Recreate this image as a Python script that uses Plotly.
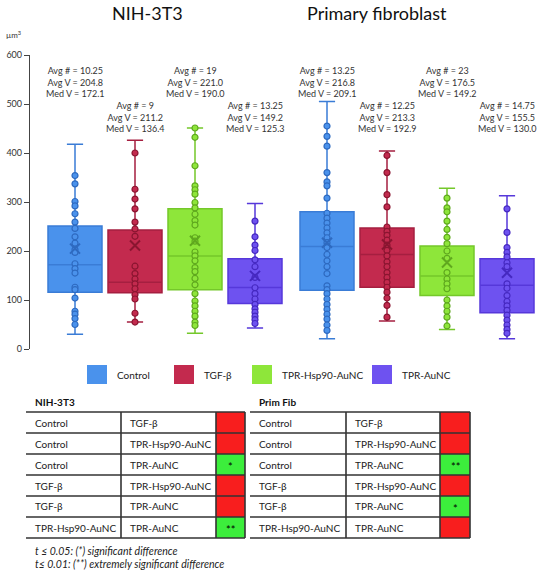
import plotly.graph_objects as go

# ---------------- data ----------------
groups = ["NIH-3T3", "Primary fibroblast"]
treatments = ["Control", "TGF-β", "TPR-Hsp90-AuNC", "TPR-AuNC"]

# box statistics, [group][treatment]
q1 = [[116, 115, 121, 93], [120, 126, 109, 74]]
median = [[172.1, 136.4, 190.0, 125.3], [209.1, 192.9, 149.2, 130.0]]
q3 = [[251, 243, 286, 184], [280, 247, 210, 184]]
lowerfence = [[30, 55, 32, 43], [21, 57, 40, 21]]
upperfence = [[418, 426, 451, 297], [505, 404, 328, 313]]
avg_count = [[10.25, 9, 19, 13.25], [13.25, 12.25, 23, 14.75]]
avg_vol = [[204.8, 211.2, 221.0, 149.2], [216.8, 213.3, 176.5, 155.5]]

# individual cell volumes (µm³), [group][treatment]
points = [
    [
        [354, 337, 301, 292, 276, 259, 246, 229, 216, 203, 197, 174, 164, 155, 126, 121, 104, 77, 71, 62, 50],
        [400, 326, 306, 286, 259, 245, 230, 169, 154, 143, 133, 123, 111, 102, 73, 55],
        [451, 432, 374, 333, 325, 316, 299, 288, 275, 262, 253, 227, 220, 198, 190, 180, 166, 158, 144, 131,
         113, 98, 88, 77, 67, 55, 48],
        [261, 229, 212, 201, 182, 168, 146, 125, 113, 102, 91, 82, 75, 67, 60, 52],
    ],
    [
        [455, 434, 414, 360, 341, 333, 308, 277, 267, 257, 247, 237, 227, 217, 207, 193, 180, 168, 154, 129,
         121, 113, 102, 91, 81, 71, 61, 49, 38],
        [395, 360, 315, 290, 249, 240, 232, 222, 212, 201, 190, 178, 168, 156, 146, 136, 126, 116, 104, 89, 65],
        [308, 288, 280, 261, 244, 228, 215, 200, 185, 156, 143, 133, 123, 100, 88, 77, 65, 47],
        [286, 238, 207, 197, 188, 176, 168, 133, 124, 109, 97, 88, 79, 69, 59, 49, 40, 32],
    ],
]

y_ticks = [0, 100, 200, 300, 400, 500, 600]
y_unit = "µm³"

# significance tables
table_titles = ["NIH-3T3", "Prim Fib"]
pair_a = ["Control", "Control", "Control", "TGF-β", "TGF-β", "TPR-Hsp90-AuNC"]
pair_b = ["TGF-β", "TPR-Hsp90-AuNC", "TPR-AuNC", "TPR-Hsp90-AuNC", "TPR-AuNC", "TPR-AuNC"]
significance = [
    ["", "", "*", "", "", "**"],
    ["", "", "**", "", "*", ""],
]
footnotes = ["t ≤ 0.05: (*) significant difference",
             "t≤ 0.01: (**) extremely significant difference"]

# ---------------- styles ----------------
FONT = "Lato"
fills = ["#4A92EC", "#C32A4E", "#8EE63A", "#6E52F0"]
lines = ["#3A7CD6", "#A51F40", "#74C82A", "#5638DA"]
darks = ["#2E6AC0", "#8A1530", "#5FA81E", "#4528C0"]

W, H = 543, 571
L, R, T, B = 30, 0, 55, 222
PW, PH = W - L - R, H - T - B


def px(x):
    return (x - L) / PW


def py(y):
    return (H - B - y) / PH


GROUP_STRIDE = 4.2


def pos(g, i):
    return g * GROUP_STRIDE + i


fig = go.Figure()

for i, t in enumerate(treatments):
    xs = [pos(g, i) for g in range(len(groups))]
    fig.add_trace(go.Box(
        x=xs,
        q1=[q1[g][i] for g in range(len(groups))],
        median=[median[g][i] for g in range(len(groups))],
        q3=[q3[g][i] for g in range(len(groups))],
        lowerfence=[lowerfence[g][i] for g in range(len(groups))],
        upperfence=[upperfence[g][i] for g in range(len(groups))],
        orientation="v",
        width=0.9,
        whiskerwidth=0.3,
        fillcolor=fills[i],
        line=dict(color=lines[i], width=1.5),
        boxpoints=False,
        name=t,
        showlegend=False,
    ))
    px_list, py_list = [], []
    for g in range(len(groups)):
        px_list += [pos(g, i)] * len(points[g][i])
        py_list += points[g][i]
    fig.add_trace(go.Scatter(
        x=px_list, y=py_list, mode="markers",
        marker=dict(size=6, color=fills[i], line=dict(color=darks[i], width=1.2)),
        showlegend=False, hoverinfo="y",
    ))
    fig.add_trace(go.Scatter(
        x=xs, y=[avg_vol[g][i] for g in range(len(groups))], mode="markers",
        marker=dict(symbol="x-thin-open", size=10, color=darks[i],
                    line=dict(color=darks[i], width=2)),
        showlegend=False, hoverinfo="y",
    ))

annotations = []
# stats text above each box
for g in range(len(groups)):
    for i in range(len(treatments)):
        c = avg_count[g][i]
        txt = f"Avg # = {c:g}<br>Avg V = {avg_vol[g][i]:.1f}<br>Med V = {median[g][i]:.1f}"
        yc = 544 if i % 2 == 0 else 474
        annotations.append(dict(
            x=pos(g, i), y=yc, xref="x", yref="y", text=txt, showarrow=False,
            xanchor="center", yanchor="middle", align="center",
            font=dict(family=FONT, size=9, color="#333333"),
        ))

# group titles
for g, (name, xc) in enumerate(zip(groups, [147, 377])):
    annotations.append(dict(
        x=px(xc), y=py(13), xref="paper", yref="paper", text=name, showarrow=False,
        xanchor="center", yanchor="middle", font=dict(family=FONT, size=18, color="#111111"),
    ))

annotations.append(dict(
    x=px(4), y=py(34), xref="paper", yref="paper", text="µm<sup>3</sup>", showarrow=False,
    xanchor="left", yanchor="middle", font=dict(family=FONT, size=8, color="#333333"),
))

shapes = []
# legend
leg_x = [87, 174, 252, 372]
for i, t in enumerate(treatments):
    shapes.append(dict(type="rect", xref="paper", yref="paper",
                       x0=px(leg_x[i]), x1=px(leg_x[i] + 20), y0=py(384), y1=py(365),
                       fillcolor=fills[i], line=dict(width=0)))
    annotations.append(dict(
        x=px(leg_x[i] + 28), y=py(375), xref="paper", yref="paper", text=t, showarrow=False,
        xanchor="left", yanchor="middle", font=dict(family=FONT, size=10, color="#222222"),
    ))

# tables
ROW_TOP, ROW_H = 412, 21
tables_geom = [(26, 121, 216, 245), (250, 346, 440, 470)]
LINE_C = "#333333"
for k, (x0, xd1, xd2, x1) in enumerate(tables_geom):
    annotations.append(dict(
        x=px(x0 + 7), y=py(402), xref="paper", yref="paper", text=f"<b>{table_titles[k]}</b>",
        showarrow=False, xanchor="left", yanchor="middle",
        font=dict(family=FONT, size=10, color="#111111"),
    ))
    n = len(pair_a)
    for r in range(n):
        yt = ROW_TOP + r * ROW_H
        yb = yt + ROW_H
        ymid = (yt + yb) / 2
        sig = significance[k][r]
        shapes.append(dict(type="rect", xref="paper", yref="paper",
                           x0=px(xd2), x1=px(x1), y0=py(yb), y1=py(yt),
                           fillcolor="#3CEE3C" if sig else "#F81E1E", line=dict(width=0)))
        annotations.append(dict(x=px(x0 + 7), y=py(ymid), xref="paper", yref="paper",
                                text=pair_a[r], showarrow=False, xanchor="left", yanchor="middle",
                                font=dict(family=FONT, size=10, color="#222222")))
        annotations.append(dict(x=px(xd1 + 7), y=py(ymid), xref="paper", yref="paper",
                                text=pair_b[r], showarrow=False, xanchor="left", yanchor="middle",
                                font=dict(family=FONT, size=10, color="#222222")))
        if sig:
            annotations.append(dict(x=px((xd2 + x1) / 2), y=py(ymid + 2), xref="paper", yref="paper",
                                    text=sig, showarrow=False, xanchor="center", yanchor="middle",
                                    font=dict(family=FONT, size=11, color="#000000")))
    for r in range(n + 1):
        yy = ROW_TOP + r * ROW_H
        shapes.append(dict(type="line", xref="paper", yref="paper",
                           x0=px(x0), x1=px(x1), y0=py(yy), y1=py(yy),
                           line=dict(color=LINE_C, width=1.6)))
    for xv in (xd1, xd2, x1):
        shapes.append(dict(type="line", xref="paper", yref="paper",
                           x0=px(xv), x1=px(xv), y0=py(ROW_TOP), y1=py(ROW_TOP + n * ROW_H),
                           line=dict(color=LINE_C, width=1.6)))

for j, ftxt in enumerate(footnotes):
    annotations.append(dict(
        x=px(33), y=py(551 + j * 13), xref="paper", yref="paper", text=f"<i>{ftxt}</i>",
        showarrow=False, xanchor="left", yanchor="middle",
        font=dict(family=FONT, size=10.5, color="#222222"),
    ))

fig.update_layout(
    width=W, height=H,
    margin=dict(l=L, r=R, t=T, b=B, pad=0),
    paper_bgcolor="white", plot_bgcolor="white",
    showlegend=False,
    annotations=annotations,
    shapes=shapes,
    xaxis=dict(range=[-0.75, 7.8], visible=False),
    yaxis=dict(range=[0, 600], tickvals=y_ticks, showline=True, linecolor="#444444", linewidth=1.3,
               ticks="outside", ticklen=5, tickcolor="#444444", tickwidth=1.2,
               showgrid=False, zeroline=False,
               tickfont=dict(family=FONT, size=9, color="#333333")),
    font=dict(family=FONT),
)

fig.write_html("out.html", config={"displayModeBar": False},
               post_script="document.body.style.margin='0';document.body.style.padding='0';")
